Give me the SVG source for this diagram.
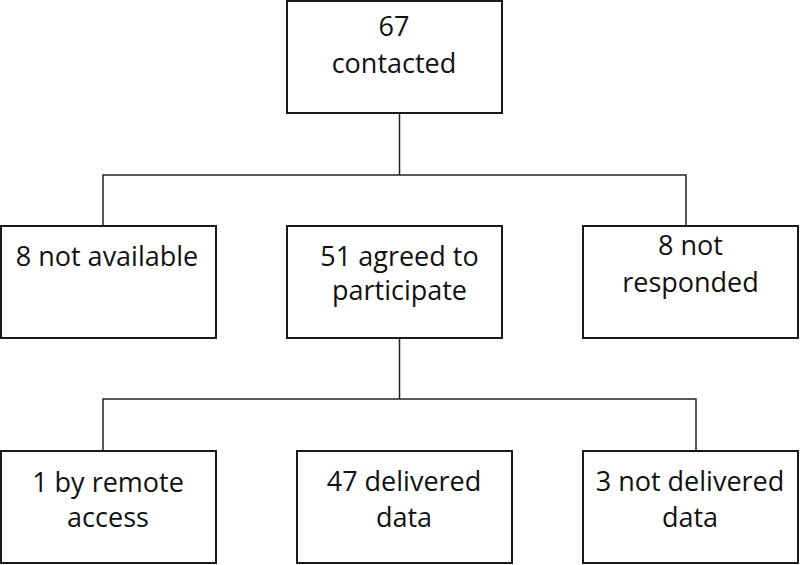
<svg xmlns="http://www.w3.org/2000/svg" width="800" height="565" viewBox="0 0 800 565">
<style>
.box{fill:#fff;stroke:#1a1a1a;stroke-width:2}
.lbl{font-family:"Open Sans","Noto Sans",sans-serif;font-size:27px;fill:#111;text-anchor:middle}
.conn{fill:none;stroke:#222;stroke-width:1.5}
</style>
<rect width="800" height="565" fill="#fff"/>
<g id="connectors">
<path class="conn" d="M399.5 113V175M103 226V175H686V226"/>
<path class="conn" d="M399.5 338V399M103 451V399H696V451"/>
</g>
<g id="n-contacted"><rect class="box" x="287" y="1" width="215" height="112"/><text class="lbl" x="394" y="36">67</text><text class="lbl" x="394" y="73">contacted</text></g>
<g id="n-notavail"><rect class="box" x="1" y="226" width="215" height="112"/><text class="lbl" x="107" y="266">8 not available</text></g>
<g id="n-agreed"><rect class="box" x="287" y="226" width="215" height="112"/><text class="lbl" x="399.5" y="266">51 agreed to</text><text class="lbl" x="399.5" y="300">participate</text></g>
<g id="n-notresp"><rect class="box" x="583" y="226" width="215" height="112"/><text class="lbl" x="690.5" y="255">8 not</text><text class="lbl" x="690.5" y="292">responded</text></g>
<g id="n-remote"><rect class="box" x="1" y="451" width="215" height="112"/><text class="lbl" x="108" y="492">1 by remote</text><text class="lbl" x="108" y="527">access</text></g>
<g id="n-delivered"><rect class="box" x="297" y="451" width="215" height="112"/><text class="lbl" x="404" y="491">47 delivered</text><text class="lbl" x="404" y="527">data</text></g>
<g id="n-notdelivered"><rect class="box" x="583" y="451" width="215" height="112"/><text class="lbl" x="690" y="491">3 not delivered</text><text class="lbl" x="690" y="527">data</text></g>
</svg>
